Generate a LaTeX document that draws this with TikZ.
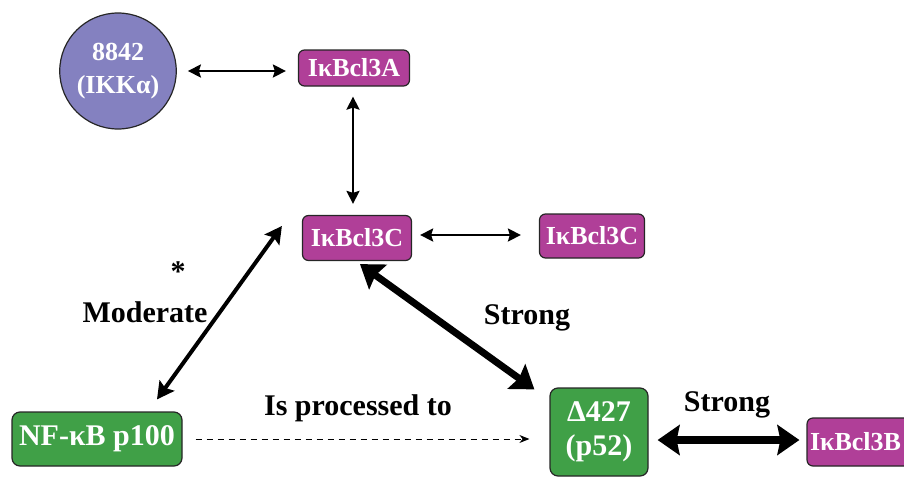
\documentclass[tikz,border=0pt]{standalone}
\usepackage{fontspec}
\setmainfont{Liberation Serif}
\usetikzlibrary{shapes.geometric,arrows.meta,calc}
\definecolor{lav}{HTML}{8481C0}
\definecolor{mag}{HTML}{B03F98}
\definecolor{grn}{HTML}{40A047}
\tikzset{
  magbox/.style={draw=black!85,line width=1.2pt,rounded corners=6pt,fill=mag,text=white,font=\fontsize{26}{28}\selectfont\bfseries,inner sep=0pt},
  grnbox/.style={draw=black!85,line width=1.2pt,rounded corners=8pt,fill=grn,text=white,font=\fontsize{30}{34}\selectfont\bfseries,inner sep=0pt,align=center},
  lbl/.style={font=\fontsize{30}{32}\selectfont\bfseries,inner sep=0pt},
  arrA/.style={line width=2.3pt,{Stealth[length=13pt,width=13pt,inset=2pt]}-{Stealth[length=13pt,width=13pt,inset=2pt]}},
  arrB/.style={line width=4pt,{Stealth[length=17pt,width=18pt,inset=3pt]}-{Stealth[length=17pt,width=18pt,inset=3pt]}},
  arrC/.style={line width=7pt,{Stealth[length=22pt,width=30pt,inset=3pt]}-{Stealth[length=22pt,width=30pt,inset=3pt]}},
}
\begin{document}
\begin{tikzpicture}[x=1pt,y=-1pt]
\useasboundingbox (0,0) rectangle (904,479);
\begin{scope}
\clip (0,0) rectangle (904,479);
\node[ellipse,draw=black!85,line width=1.2pt,fill=lav,minimum width=108pt,minimum height=116pt,text=white,font=\fontsize{26}{33}\selectfont\bfseries,align=center,inner sep=0pt] (e) at (118,71) {8842\\(IKKα)};
\node[magbox,minimum width=111pt,minimum height=36pt] (a3) at (354,68) {IκBcl3A};
\node[magbox,minimum width=109pt,minimum height=45pt] (c3) at (357,238) {IκBcl3C};
\node[magbox,minimum width=105pt,minimum height=44pt] (c3r) at (592,236) {IκBcl3C};
\node[grnbox,minimum width=170pt,minimum height=54pt] (p100) at (97,439) {NF-κB p100};
\node[grnbox,minimum width=98pt,minimum height=88pt] (p52) at (599,432) {Δ427\\(p52)};
\node[magbox,minimum width=110pt,minimum height=48pt,text width=104pt,align=left,inner xsep=3pt] (b3) at (862,442) {IκBcl3B};
\end{scope}

\coordinate (v1) at ($(a3.south)+(-1,0)$);
\coordinate (v2) at (v1 |- c3.north);
\coordinate (h1) at ($(c3.east)+(0,-3)$);
\coordinate (h2) at (h1 -| c3r.west);
\coordinate (m1) at ($(c3.west)+(-20,-12)$);
\coordinate (m2) at ($(p100.north)+(60,-12)$);
\coordinate (d1) at ($(c3.south)+(3,3)$);
\coordinate (d2) at ($(p52.north west)+(-15,2)$);
\coordinate (t1) at ($(p52.east)+(0,8)$);
\coordinate (t2) at (t1 -| b3.west);

\draw[arrA,shorten <=11pt,shorten >=12pt] (e.east) -- (e.east -| a3.west);
\draw[arrA,shorten <=10pt,shorten >=11pt] (v1) -- (v2);
\draw[arrA,shorten <=8pt,shorten >=18pt] (h1) -- (h2);
\draw[arrB] (m1) -- (m2);
\draw[arrC] (d1) -- (d2);
\draw[line width=1pt,dash pattern=on 6pt off 5pt,-{Stealth[length=10pt,width=8pt]},shorten <=13pt,shorten >=20pt] (p100.east) -- (p100.east -| p52.west);
\draw[arrC,line width=8pt,shorten <=9pt,shorten >=7pt] (t1) -- (t2);

\node[lbl] (star) at (178,272) {*};
\node[lbl] (mod) at (145,312) {Moderate};
\node[lbl] (s1) at (527,318) {Strong};
\node[lbl] (ip) at (358,408) {Is processed to};
\node[lbl] (s2) at (727,405) {Strong};
\end{tikzpicture}
\end{document}
